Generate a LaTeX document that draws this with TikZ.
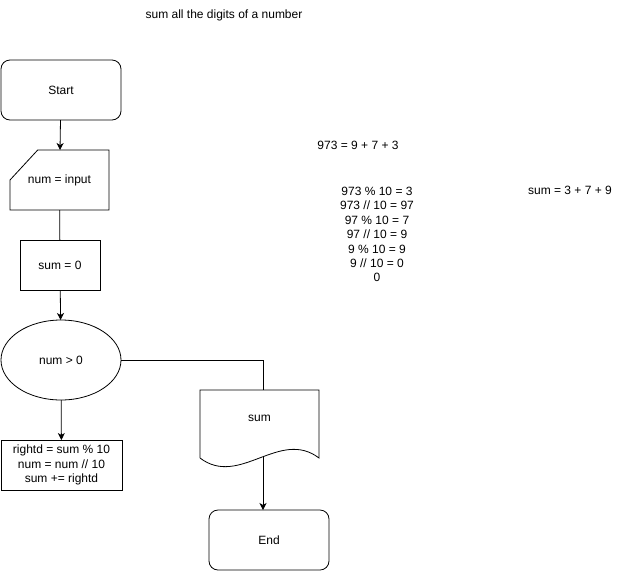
\documentclass[tikz,border=0pt]{standalone}
\usepackage{fontspec}
\setmainfont{Liberation Sans}
\usetikzlibrary{shapes.geometric, arrows.meta, positioning, calc}

\begin{document}
\begin{tikzpicture}[
        x=1pt, y=-1pt,
        every node/.style={font=\fontsize{12}{14.4}\selectfont, outer sep=0pt},
        terminal/.style={rectangle, draw=black, minimum width=120pt, minimum height=60pt, align=center, rounded corners=9pt},
        process/.style={rectangle, draw=black, align=center, inner sep=0pt},
        iobox/.style={rectangle, minimum width=99pt, minimum height=60pt, align=center},
        decision/.style={ellipse, draw=black, minimum width=120pt, minimum height=80pt, inner sep=0pt},
        docbox/.style={rectangle, minimum width=119pt, minimum height=56pt, align=center},
        note/.style={align=center, inner sep=0pt},
        arrow/.style={-{Stealth[length=7pt, width=7pt, inset=2pt]}, draw=black},
        line width=0.8pt
    ]
        \useasboundingbox (0,0) rectangle (642,571);

        \node[note] (title) at (224,15) {sum all the digits of a number};

        \node[terminal] (start) at (61,90) {Start};
        \node[iobox] (inp) at (59.5,180) {num = input};
        \node[process, minimum width=80pt, minimum height=50pt] (sum0) at (60,265) {sum = 0};
        \node[decision] (cond) at (61,360) {num \textgreater{} 0};
        \node[process, minimum width=121pt, minimum height=50pt] (body) at (61.5,465) {rightd = sum \% 10\\ num = num // 10\\ sum += rightd};
        \node[docbox] (out) at (259.5,418) {sum};
        \node[terminal] (end) at (269,540) {End};

        % notes on the right
        \node[note] (split) at (358,145) {973 = 9 + 7 + 3};
        \node[note] (steps) at (377,234.5) {973 \% 10 = 3\\ 973 // 10 = 97\\ 97 \% 10 = 7\\ 97 // 10 = 9\\ 9 \% 10 = 9\\ 9 // 10 = 0\\ 0};
        \node[note] (total) at (570,190) {sum = 3 + 7 + 9};

        % shapes drawn by hand
        \draw (inp.north east) -- (inp.south east) -- (inp.south west) -- (inp.west)
            -- ($(inp.north west)!0.28!(inp.north east)$) -- cycle;
        \draw ($(out.south west)+(0,12)$) -- (out.north west) -- (out.north east) -- ($(out.south east)+(0,12)$)
            .. controls ($(out.south)+(20,-18)$) and ($(out.south)+(-20,42)$) .. ($(out.south west)+(0,12)$);
        \coordinate (outb) at ($(out.south)+(3.5,11)$);

        % connectors
        \draw[arrow] (start) -- (inp);
        \draw (inp) -- (sum0);
        \draw[arrow] (sum0) -- (cond);
        \draw[arrow] (cond) -- (body);
        \draw (cond.east) -| ([xshift=3.5pt]out.north);
        \draw[arrow] (outb) -- (outb |- end.north);
    \end{tikzpicture}
\end{document}
